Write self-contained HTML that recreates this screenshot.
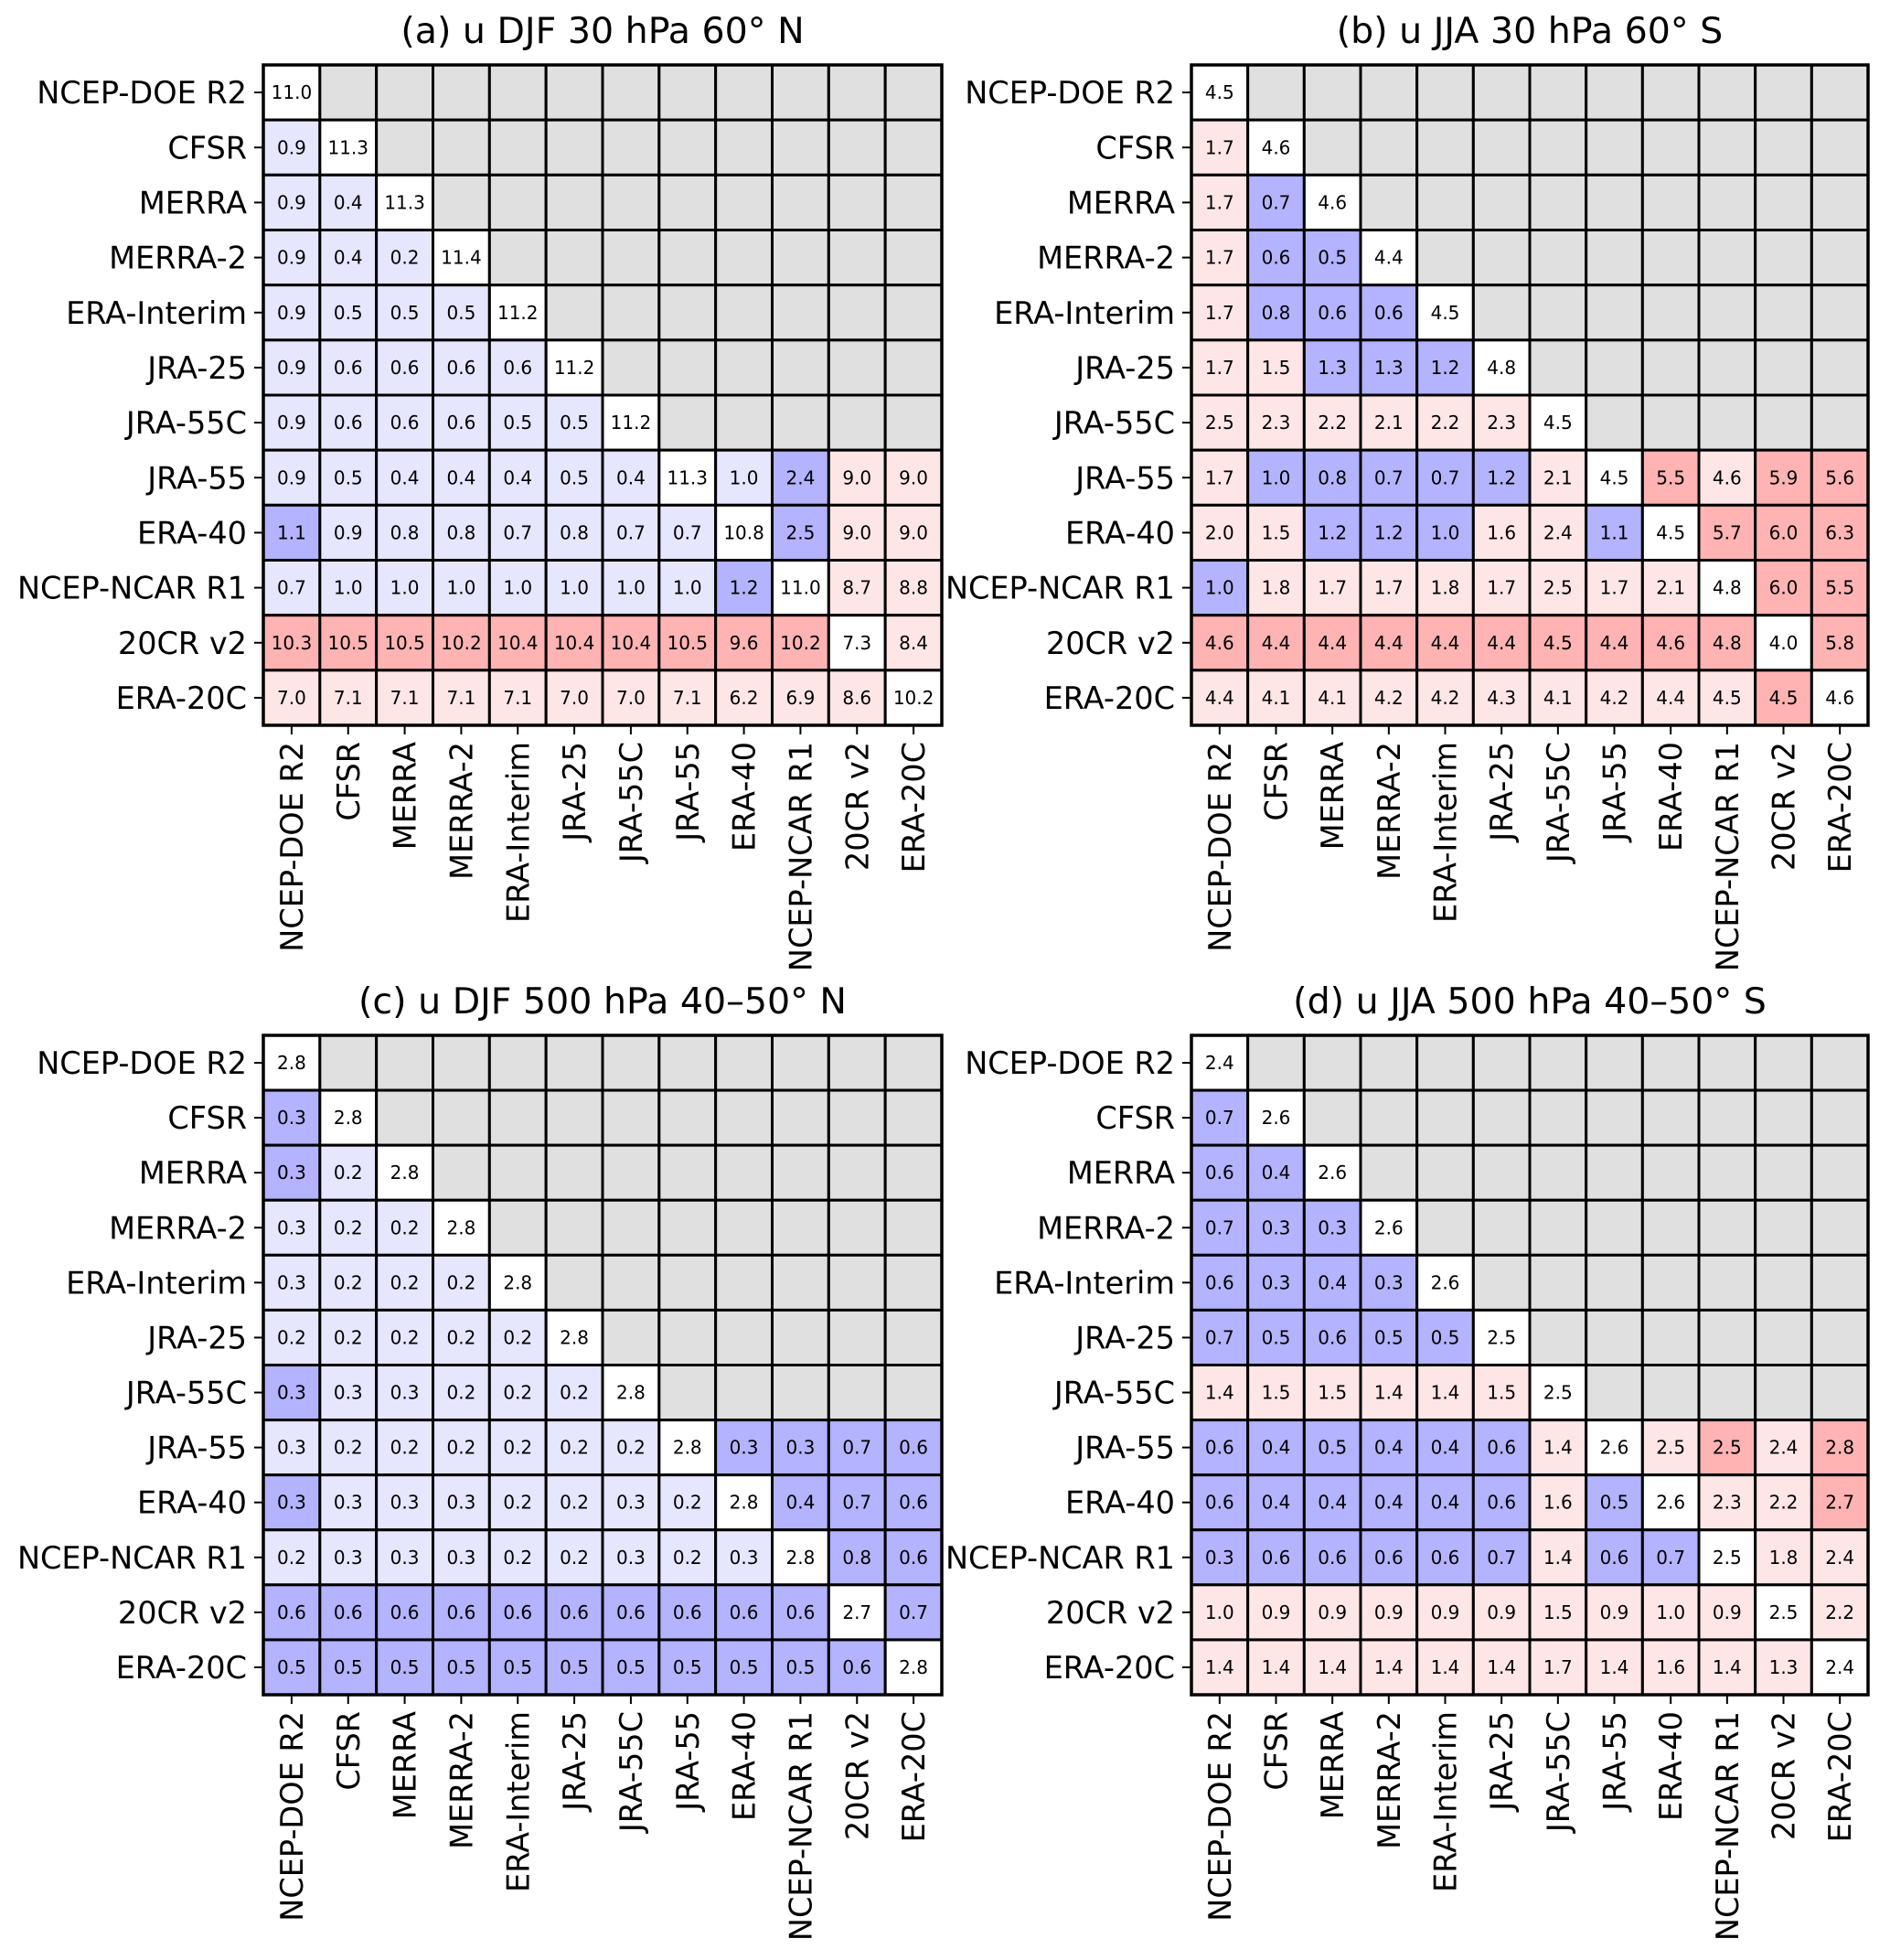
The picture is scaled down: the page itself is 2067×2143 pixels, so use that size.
<!DOCTYPE html>
<html><head><meta charset="utf-8">
<style>
html,body{margin:0;padding:0;background:#fff;}
svg{display:block;font-family:"DejaVu Sans","Liberation Sans",sans-serif;}
</style></head>
<body>
<svg id="fig" width="2067" height="2143" viewBox="0 0 2067 2143" xmlns="http://www.w3.org/2000/svg"></svg>
<script>
const names = ["NCEP-DOE R2","CFSR","MERRA","MERRA-2","ERA-Interim","JRA-25","JRA-55C","JRA-55","ERA-40","NCEP-NCAR R1","20CR v2","ERA-20C"];

const titleA = "(a) u DJF 30 hPa 60° N";
const valuesA = [
 [11.0],
 [0.9,11.3],
 [0.9,0.4,11.3],
 [0.9,0.4,0.2,11.4],
 [0.9,0.5,0.5,0.5,11.2],
 [0.9,0.6,0.6,0.6,0.6,11.2],
 [0.9,0.6,0.6,0.6,0.5,0.5,11.2],
 [0.9,0.5,0.4,0.4,0.4,0.5,0.4,11.3,1.0,2.4,9.0,9.0],
 [1.1,0.9,0.8,0.8,0.7,0.8,0.7,0.7,10.8,2.5,9.0,9.0],
 [0.7,1.0,1.0,1.0,1.0,1.0,1.0,1.0,1.2,11.0,8.7,8.8],
 [10.3,10.5,10.5,10.2,10.4,10.4,10.4,10.5,9.6,10.2,7.3,8.4],
 [7.0,7.1,7.1,7.1,7.1,7.0,7.0,7.1,6.2,6.9,8.6,10.2]
];
const classesA = ["w","bw","bbw","bbbw","bbbbw","bbbbbw","bbbbbbw","bbbbbbbwbBrr","BbbbbbbbwBrr","bbbbbbbbBwrr","RRRRRRRRRRwr","rrrrrrrrrrrw"];

const titleB = "(b) u JJA 30 hPa 60° S";
const valuesB = [
 [4.5],
 [1.7,4.6],
 [1.7,0.7,4.6],
 [1.7,0.6,0.5,4.4],
 [1.7,0.8,0.6,0.6,4.5],
 [1.7,1.5,1.3,1.3,1.2,4.8],
 [2.5,2.3,2.2,2.1,2.2,2.3,4.5],
 [1.7,1.0,0.8,0.7,0.7,1.2,2.1,4.5,5.5,4.6,5.9,5.6],
 [2.0,1.5,1.2,1.2,1.0,1.6,2.4,1.1,4.5,5.7,6.0,6.3],
 [1.0,1.8,1.7,1.7,1.8,1.7,2.5,1.7,2.1,4.8,6.0,5.5],
 [4.6,4.4,4.4,4.4,4.4,4.4,4.5,4.4,4.6,4.8,4.0,5.8],
 [4.4,4.1,4.1,4.2,4.2,4.3,4.1,4.2,4.4,4.5,4.5,4.6]
];
const classesB = ["w","rw","rBw","rBBw","rBBBw","rrBBBw","rrrrrrw","rBBBBBrwRrRR","rrBBBrrBwRRR","BrrrrrrrrwRR","RRRRRRRRRRwR","rrrrrrrrrrRw"];

const titleC = "(c) u DJF 500 hPa 40–50° N";
const valuesC = [
 [2.8],
 [0.3,2.8],
 [0.3,0.2,2.8],
 [0.3,0.2,0.2,2.8],
 [0.3,0.2,0.2,0.2,2.8],
 [0.2,0.2,0.2,0.2,0.2,2.8],
 [0.3,0.3,0.3,0.2,0.2,0.2,2.8],
 [0.3,0.2,0.2,0.2,0.2,0.2,0.2,2.8,0.3,0.3,0.7,0.6],
 [0.3,0.3,0.3,0.3,0.2,0.2,0.3,0.2,2.8,0.4,0.7,0.6],
 [0.2,0.3,0.3,0.3,0.2,0.2,0.3,0.2,0.3,2.8,0.8,0.6],
 [0.6,0.6,0.6,0.6,0.6,0.6,0.6,0.6,0.6,0.6,2.7,0.7],
 [0.5,0.5,0.5,0.5,0.5,0.5,0.5,0.5,0.5,0.5,0.6,2.8]
];
const classesC = ["w","Bw","Bbw","bbbw","bbbbw","bbbbbw","Bbbbbbw","bbbbbbbwBBBB","BbbbbbbbwBBB","bbbbbbbbbwBB","BBBBBBBBBBwB","BBBBBBBBBBBw"];

const titleD = "(d) u JJA 500 hPa 40–50° S";
const valuesD = [
 [2.4],
 [0.7,2.6],
 [0.6,0.4,2.6],
 [0.7,0.3,0.3,2.6],
 [0.6,0.3,0.4,0.3,2.6],
 [0.7,0.5,0.6,0.5,0.5,2.5],
 [1.4,1.5,1.5,1.4,1.4,1.5,2.5],
 [0.6,0.4,0.5,0.4,0.4,0.6,1.4,2.6,2.5,2.5,2.4,2.8],
 [0.6,0.4,0.4,0.4,0.4,0.6,1.6,0.5,2.6,2.3,2.2,2.7],
 [0.3,0.6,0.6,0.6,0.6,0.7,1.4,0.6,0.7,2.5,1.8,2.4],
 [1.0,0.9,0.9,0.9,0.9,0.9,1.5,0.9,1.0,0.9,2.5,2.2],
 [1.4,1.4,1.4,1.4,1.4,1.4,1.7,1.4,1.6,1.4,1.3,2.4]
];
const classesD = ["w","Bw","BBw","BBBw","BBBBw","BBBBBw","rrrrrrw","BBBBBBrwrRrR","BBBBBBrBwrrR","BBBBBBrBBwrr","rrrrrrrrrrwr","rrrrrrrrrrrw"];

const NS = "http://www.w3.org/2000/svg";
const svg = document.getElementById('fig');
const fill = {w:"#ffffff", b:"#e6e6ff", B:"#b3b3ff", r:"#ffe6e6", R:"#ffb3b3", g:"#e0e0e0"};
function mk(tag, attrs, parent){ const e=document.createElementNS(NS,tag); for(const k in attrs) e.setAttribute(k,attrs[k]); (parent||svg).appendChild(e); return e; }

const LBL = 33.5, CELL = 20, TTL = 39.5;

function panel(id, title, vals, cls, x0, x1, y0, y1, ty){
  const g = mk('g',{});
  
  
  const n = names.length;
  const cw = (x1-x0)/n, ch = (y1-y0)/n;
  const xs = j => x0 + j*cw, ys = i => y0 + i*ch;
  const t = mk('text',{x:(x0+x1)/2, y:ty, 'text-anchor':'middle', 'font-size':TTL, fill:'#000'}, g);
  t.textContent = title;
  
  
  for(let i=0;i<n;i++){
    for(let j=0;j<n;j++){
      const v = (vals[i] && j < vals[i].length) ? vals[i][j] : null;
      const c = v===null ? 'g' : (cls[i][j]||'w');
      const r = mk('rect',{x:xs(j), y:ys(i), width:cw, height:ch, fill:fill[c], stroke:'#000', 'stroke-width':3}, g);
      
      
      if(v!==null){
        const tx = mk('text',{x:xs(j)+cw/2, y:ys(i)+ch/2+7, 'text-anchor':'middle', 'font-size':CELL, fill:'#000'}, g);
        tx.textContent = v.toFixed(1);
        
        
      }
    }
  }
  mk('rect',{x:x0, y:y0, width:x1-x0, height:y1-y0, fill:'none', stroke:'#000', 'stroke-width':3.5}, g);
  for(let i=0;i<n;i++){
    const yc = ys(i)+ch/2;
    mk('line',{x1:x0-10, y1:yc, x2:x0, y2:yc, stroke:'#000', 'stroke-width':2}, g);
    const l = mk('text',{x:x0-18, y:yc+12, 'text-anchor':'end', 'font-size':LBL, fill:'#000'}, g);
    l.textContent = names[i];
    
    
    const xc = xs(i)+cw/2;
    mk('line',{x1:xc, y1:y1, x2:xc, y2:y1+10, stroke:'#000', 'stroke-width':2}, g);
    const cl = mk('text',{x:0, y:0, 'text-anchor':'end', 'font-size':LBL, fill:'#000', transform:`translate(${xc+12},${y1+18}) rotate(-90)`}, g);
    cl.textContent = names[i];
    
    
  }
}
panel('panel-a', titleA, valuesA, classesA, 288, 1030, 71, 793, 47);
panel('panel-b', titleB, valuesB, classesB, 1303, 2043, 71, 793, 47);
panel('panel-c', titleC, valuesC, classesC, 288, 1030, 1132, 1853, 1108);
panel('panel-d', titleD, valuesD, classesD, 1303, 2043, 1132, 1853, 1108);
</script>
</body></html>
